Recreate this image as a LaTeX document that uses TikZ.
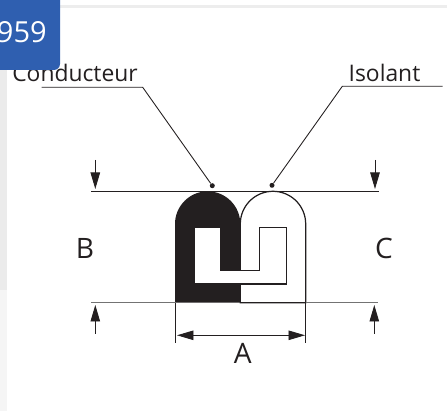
\documentclass[tikz,border=0pt]{standalone}
\usepackage{fontspec}
\setmainfont{Open Sans}
\usetikzlibrary{arrows.meta}
\definecolor{badgeblue}{HTML}{2F5FB0}
\definecolor{inkblack}{HTML}{231F20}
\tikzset{
  leader/.style={draw=inkblack, line width=0.5pt},
  dimline/.style={draw=inkblack, line width=0.65pt},
  dimarrow/.style={draw=inkblack, line width=0.55pt, -{Triangle[length=0.33cm, width=0.19cm]}},
  dimboth/.style={draw=inkblack, line width=0.55pt, {Triangle[length=0.33cm, width=0.19cm]}-{Triangle[length=0.33cm, width=0.19cm]}},
  labeltext/.style={font=\fontsize{13}{15}\selectfont, text=inkblack, inner sep=0pt},
  dimtext/.style={font=\fontsize{16}{18}\selectfont, text=inkblack, inner sep=0pt},
  dotmark/.style={circle, fill=inkblack, inner sep=0pt, minimum size=0.1cm}
}
\begin{document}
\begin{tikzpicture}[x=0.02cm, y=-0.02cm]
  \useasboundingbox (0,0) rectangle (447,411);
  % page behind
  \fill[black!8] (0,0) rectangle (7,290);
  \fill[black!4] (0,290) rectangle (7,411);
  \fill[black!7] (0,5) rectangle (447,8);
  % labels
  \node[labeltext, anchor=base] (conducteur) at (75,81.5) {Conducteur};
  \node[labeltext, anchor=base] (isolant) at (384.5,81.5) {Isolant};
  % badge
  \fill[badgeblue, rounded corners=0.12cm] (-10,-10) rectangle (60,70);
  \begin{scope}
    \clip (0,0) rectangle (60,70);
    \node[font=\fontsize{16.5}{18}\selectfont, text=white, anchor=base east, inner sep=0pt] (badge) at (47,43) {959};
  \end{scope}
  % profile
  \coordinate (cavA) at (194.3,227.5);
  \fill[inkblack] (175,302.7) -- (175,224) arc[start angle=180, end angle=360, radius=32.65] -- (240.3,302.7) -- cycle;
  \draw[inkblack, line width=0.7pt] (240.3,302.7) -- (240.3,224) arc[start angle=180, end angle=360, radius=32.7] -- (305.7,302.7) -- cycle;
  \draw[inkblack, fill=white, line width=0.6pt] (cavA) -- (221,227.5) -- (221,270.7) -- (259.3,270.7) -- (259.3,227.5) -- (286.7,227.5) -- (286.7,284) -- (194.3,284) -- cycle;
  % dimension lines
  \coordinate (topL) at (91,191.2);
  \coordinate (topR) at (379,191.2);
  \coordinate (botL) at (91,302.7);
  \coordinate (botR) at (378,302.7);
  \draw[dimline] (topL) -- (topR);
  \draw[dimline, draw=black!55] (botL) -- (175,302.7);
  \draw[dimline, draw=black!55] (305.7,302.7) -- (botR);
  \draw[dimline] (175.5,302.7) -- (175.5,342.7);
  \draw[dimline] (305.5,302.7) -- (305.5,342.7);
  \draw[dimboth] (177,335.3) -- (305,335.3);
  \draw[dimarrow] (95.3,160) -- (95.3,189);
  \draw[dimarrow] (375,160) -- (375,189);
  \draw[dimarrow] (95.3,334) -- (95.3,305);
  \draw[dimarrow] (374.3,334) -- (374.3,305);
  % leaders
  \node[dotmark] (dotC) at (212.3,185.7) {};
  \node[dotmark] (dotI) at (272,185.3) {};
  \coordinate (condA) at (41.7,87.3);
  \coordinate (condB) at (142.7,87.3);
  \coordinate (isolA) at (442.7,86.3);
  \coordinate (isolB) at (342.3,86.3);
  \draw[leader] (condA) -- (condB) -- (dotC);
  \draw[leader] (isolA) -- (isolB) -- (dotI);
  % dimension letters
  \node[dimtext, anchor=base] (lblA) at (242.7,364) {A};
  \node[dimtext, anchor=base] (lblB) at (85,258.5) {B};
  \node[dimtext, anchor=base] (lblC) at (384,258.5) {C};
\end{tikzpicture}
\end{document}
